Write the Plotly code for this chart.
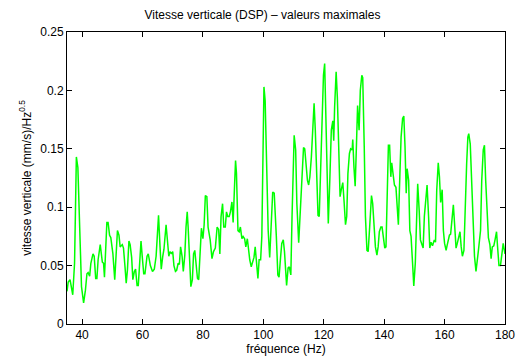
import plotly.graph_objects as go

# Frequency axis (Hz) and maximum vertical velocity PSD values ((mm/s)/Hz^0.5)
freq = [
    35.0, 35.4, 36.0, 36.9, 37.5, 38.1, 38.6, 39.3, 39.8, 40.5, 41.1, 41.6, 42.0, 42.5, 42.9,
    43.6, 44.0, 44.5, 44.9, 45.3, 46.0, 46.7, 47.1, 47.4, 47.8, 48.2, 48.6, 49.1, 49.5, 50.2,
    50.8, 51.3, 51.7, 52.2, 52.6, 53.3, 53.7, 54.2, 54.6, 55.0, 55.5, 55.9, 56.4, 56.8, 57.3,
    57.7, 58.2, 58.6, 59.5, 59.9, 60.4, 60.8, 61.5, 61.9, 62.6, 63.3, 63.9, 64.5, 64.9, 65.3,
    65.8, 66.2, 66.7, 67.1, 67.8, 68.2, 68.7, 69.1, 69.6, 70.0, 70.4, 70.9, 71.3, 71.8, 72.2,
    72.6, 73.1, 73.5, 74.0, 74.4, 74.8, 75.1, 75.6, 76.0, 76.5, 76.9, 77.3, 77.8, 78.2, 78.6,
    79.1, 79.5, 80.0, 80.4, 80.8, 81.3, 81.7, 82.4, 83.0, 83.5, 84.1, 84.7, 85.2, 85.6, 86.0,
    86.5, 86.9, 87.4, 87.8, 88.2, 88.7, 89.1, 89.6, 90.0, 90.4, 90.8, 91.1, 91.6, 92.0, 92.4,
    92.9, 93.3, 93.8, 94.2, 94.7, 95.1, 95.5, 96.0, 96.4, 96.9, 97.3, 97.7, 98.2, 98.6, 99.1,
    99.5, 99.9, 100.2, 100.6, 101.0, 101.6, 102.1, 102.5, 103.1, 103.6, 103.9, 104.3, 104.8, 105.2, 105.7,
    106.1, 106.6, 107.0, 107.7, 108.2, 108.6, 109.1, 109.5, 110.2, 110.7, 111.1, 111.7, 112.2, 112.8, 113.3,
    113.7, 114.1, 114.6, 115.0, 115.4, 115.9, 116.3, 116.8, 117.2, 117.7, 118.1, 118.5, 119.0, 119.4, 119.9,
    120.3, 120.7, 121.2, 121.5, 122.0, 122.5, 123.0, 123.3, 123.6, 124.1, 124.5, 124.9, 125.4, 125.8, 126.3,
    126.7, 127.2, 127.6, 128.0, 128.5, 128.9, 129.4, 129.6, 130.0, 130.4, 130.8, 131.2, 131.7, 132.1, 132.6,
    132.9, 133.4, 133.8, 134.3, 134.7, 135.2, 135.8, 136.2, 136.7, 137.1, 137.6, 138.0, 138.4, 138.9, 139.3,
    139.7, 140.2, 140.6, 141.0, 141.4, 141.8, 142.2, 142.5, 143.0, 143.4, 143.9, 144.3, 144.7, 145.2, 145.6,
    146.1, 146.5, 146.9, 147.3, 147.6, 148.1, 148.5, 148.9, 149.4, 149.8, 150.3, 150.7, 151.1, 151.6, 152.0,
    152.5, 152.9, 153.3, 153.8, 154.2, 154.7, 155.1, 155.5, 156.0, 156.6, 157.0, 157.4, 157.9, 158.3, 158.7,
    159.2, 159.6, 160.0, 160.5, 160.9, 161.6, 162.0, 162.4, 162.9, 163.3, 163.8, 164.2, 164.6, 165.1, 165.5,
    165.9, 166.4, 166.8, 167.3, 167.7, 168.0, 168.5, 169.0, 169.5, 169.9, 170.4, 170.8, 171.2, 171.9, 172.3,
    172.8, 173.2, 173.6, 174.1, 174.5, 175.0, 175.4, 175.8, 176.3, 176.7, 177.2, 177.6, 178.0, 178.5, 178.9,
    179.4, 179.8, 180.0,
]
psd_max = [
    0.028, 0.036, 0.038, 0.025, 0.052, 0.143, 0.134, 0.072, 0.032, 0.018, 0.029, 0.043, 0.044, 0.041, 0.052,
    0.060, 0.058, 0.039, 0.039, 0.055, 0.068, 0.053, 0.052, 0.040, 0.063, 0.087, 0.087, 0.076, 0.074, 0.060,
    0.038, 0.063, 0.080, 0.076, 0.066, 0.068, 0.065, 0.049, 0.035, 0.046, 0.071, 0.068, 0.057, 0.038, 0.045,
    0.047, 0.033, 0.033, 0.071, 0.058, 0.043, 0.043, 0.058, 0.060, 0.050, 0.045, 0.047, 0.058, 0.083, 0.093,
    0.066, 0.047, 0.058, 0.064, 0.085, 0.072, 0.058, 0.062, 0.060, 0.062, 0.050, 0.045, 0.046, 0.052, 0.051,
    0.066, 0.058, 0.045, 0.059, 0.083, 0.096, 0.083, 0.049, 0.032, 0.038, 0.060, 0.063, 0.049, 0.039, 0.038,
    0.063, 0.082, 0.073, 0.085, 0.110, 0.109, 0.083, 0.072, 0.056, 0.062, 0.065, 0.083, 0.081, 0.060, 0.092,
    0.103, 0.083, 0.083, 0.096, 0.092, 0.092, 0.096, 0.1045, 0.087, 0.114, 0.140, 0.129, 0.080, 0.079, 0.083,
    0.073, 0.075, 0.073, 0.066, 0.073, 0.063, 0.055, 0.049, 0.053, 0.057, 0.066, 0.052, 0.039, 0.055, 0.055,
    0.075, 0.137, 0.203, 0.191, 0.137, 0.080, 0.057, 0.080, 0.113, 0.112, 0.100, 0.075, 0.042, 0.040, 0.057,
    0.069, 0.072, 0.062, 0.033, 0.048, 0.049, 0.042, 0.092, 0.1615, 0.149, 0.103, 0.0695, 0.095, 0.137, 0.151,
    0.150, 0.137, 0.123, 0.119, 0.126, 0.143, 0.169, 0.189, 0.166, 0.126, 0.093, 0.092, 0.132, 0.183, 0.213,
    0.223, 0.180, 0.123, 0.086, 0.123, 0.166, 0.174, 0.157, 0.186, 0.216, 0.194, 0.151, 0.109, 0.115, 0.121,
    0.106, 0.085, 0.092, 0.129, 0.146, 0.150, 0.149, 0.158, 0.134, 0.118, 0.151, 0.187, 0.166, 0.200, 0.213,
    0.211, 0.152, 0.092, 0.063, 0.062, 0.083, 0.110, 0.103, 0.080, 0.066, 0.059, 0.066, 0.079, 0.083, 0.083,
    0.074, 0.065, 0.066, 0.126, 0.153, 0.153, 0.126, 0.138, 0.126, 0.119, 0.117, 0.094, 0.085, 0.128, 0.160,
    0.176, 0.178, 0.152, 0.112, 0.133, 0.123, 0.080, 0.075, 0.052, 0.0325, 0.052, 0.092, 0.120, 0.097, 0.072,
    0.068, 0.065, 0.092, 0.109, 0.119, 0.092, 0.065, 0.070, 0.067, 0.072, 0.070, 0.1145, 0.138, 0.126, 0.104,
    0.115, 0.080, 0.069, 0.063, 0.068, 0.076, 0.077, 0.086, 0.102, 0.086, 0.065, 0.069, 0.074, 0.079, 0.066,
    0.058, 0.063, 0.103, 0.137, 0.160, 0.163, 0.154, 0.123, 0.092, 0.058, 0.045, 0.052, 0.063, 0.080, 0.123,
    0.149, 0.153, 0.123, 0.086, 0.074, 0.068, 0.056, 0.066, 0.067, 0.072, 0.079, 0.064, 0.050, 0.050, 0.058,
    0.069, 0.063, 0.060,
]

x_ticks = [40, 60, 80, 100, 120, 140, 160, 180]
y_ticks = [0, 0.05, 0.1, 0.15, 0.2, 0.25]
y_tick_labels = ["0", "0.05", "0.1", "0.15", "0.2", "0.25"]

FONT = "Liberation Sans, Arial, Helvetica, sans-serif"

fig = go.Figure()
fig.add_trace(go.Scatter(
    x=freq, y=psd_max, mode="lines",
    line=dict(color="#00ff00", width=1.5),
    hoverinfo="x+y", showlegend=False,
))

axis_common = dict(
    showline=True, linecolor="black", linewidth=1, mirror="allticks",
    ticks="inside", ticklen=5, tickcolor="black", tickwidth=1,
    showgrid=False, zeroline=False, automargin=False,
    tickfont=dict(family=FONT, size=12, color="black"),
)

fig.update_layout(
    width=525, height=358,
    margin=dict(l=67, r=20, t=32, b=34),
    paper_bgcolor="white", plot_bgcolor="white",
    font=dict(family=FONT, size=12, color="black"),
    title=dict(
        text="Vitesse verticale (DSP) \u2013 valeurs maximales",
        x=0.5, xanchor="center", y=0.96, yanchor="middle",
        font=dict(family=FONT, size=12, color="black"),
    ),
    xaxis=dict(
        range=[35, 180], tickvals=x_ticks,
        title=dict(text="fréquence (Hz)", standoff=0, font=dict(family=FONT, size=12)),
        **axis_common,
    ),
    yaxis=dict(
        range=[0, 0.25], tickvals=y_ticks, ticktext=y_tick_labels,
        title=dict(text="vitesse verticale (mm/s)/Hz<sup>0.5</sup>", standoff=6,
                   font=dict(family=FONT, size=12)),
        **axis_common,
    ),
)

fig.write_html("out.html")
